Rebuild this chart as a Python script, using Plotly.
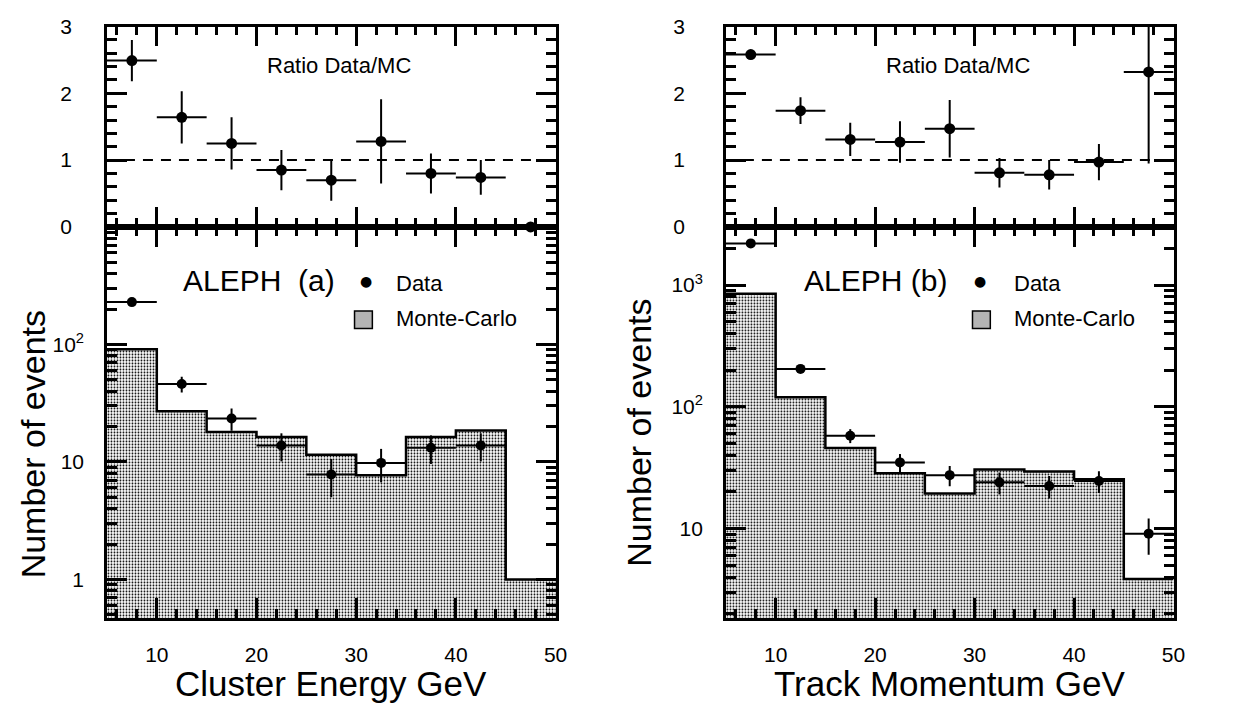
import plotly.graph_objects as go

# ---------------- data ----------------
bin_edges = [5, 10, 15, 20, 25, 30, 35, 40, 45, 50]
bin_centers = [7.5, 12.5, 17.5, 22.5, 27.5, 32.5, 37.5, 42.5, 47.5]
half_width = [2.5] * 9

# (a) Cluster energy
mc_a = [91, 27, 18, 16.3, 11.5, 7.7, 16.3, 18.5, 1.0]
data_a = [229, 46, 23.4, 13.8, 7.8, 9.8, 13.2, 13.8, None]
data_a_err = [15, 7, 5, 3.7, 2.8, 3.1, 3.6, 3.7, 0]
ratio_a = [2.49, 1.64, 1.25, 0.85, 0.70, 1.28, 0.80, 0.74, 0.0]
ratio_a_err = [0.31, 0.39, 0.39, 0.30, 0.31, 0.63, 0.30, 0.26, 0.0]

# (b) Track momentum
mc_b = [850, 120, 46, 28.5, 19.4, 30.6, 29.5, 25.5, 3.86]
data_b = [2200, 205, 58, 35, 27.5, 24, 22.4, 24.6, 9.1]
data_b_err = [47, 14, 7.6, 6, 5.2, 4.9, 4.7, 5, 3]
ratio_b = [2.58, 1.74, 1.31, 1.27, 1.47, 0.81, 0.78, 0.97, 2.32]
ratio_b_err = [0.07, 0.20, 0.25, 0.31, 0.43, 0.22, 0.22, 0.27, 1.37]

W, H = 1239, 717
FONT = "Liberation Sans, Arial, sans-serif"

def px(x):
    return x / W

def py(y):
    return 1 - y / H

fig = go.Figure()

panels = [
    dict(mc=mc_a, data=data_a, derr=data_a_err, ratio=ratio_a, rerr=ratio_a_err,
         x0=108, x1=561, yr=[-0.328, 3.0], tv=[1, 10, 100],
         tt=["1", "10", "10<sup>2</sup>"], label="ALEPH  (a)", xtitle="Cluster Energy GeV",
         clip=False, aleph_x=183, dot_x=370, txt_x=398, box_x=358, ylab_x=33, ylab_y=447),
    dict(mc=mc_b, data=data_b, derr=data_b_err, ratio=ratio_b, rerr=ratio_b_err,
         x0=733, x1=1185, yr=[0.267, 3.478], tv=[10, 100, 1000],
         tt=["10", "10<sup>2</sup>", "10<sup>3</sup>"], label="ALEPH (b)", xtitle="Track Momentum GeV",
         clip=True, aleph_x=810, dot_x=990, txt_x=1022, box_x=982, ylab_x=645, ylab_y=435),
]

y_top, y_mid, y_bot = 15, 222, 626
tick_style = dict(ticks="inside", tickcolor="black", tickwidth=2.5)
axis_common = dict(showline=True, linecolor="black", linewidth=2.5, mirror="allticks",
                   showgrid=False, zeroline=False,
                   tickfont=dict(family=FONT, size=21, color="black"), **tick_style)

annotations = []
shapes = []
for i, p in enumerate(panels):
    n = 2 * i
    xr_name, yr_name = f"x{n+1}", f"y{n+1}"
    xl_name, yl_name = f"x{n+2}", f"y{n+2}"
    dom_x = [px(p["x0"]), px(p["x1"])]

    # ratio axes
    fig.layout[f"xaxis{n+1}"] = dict(domain=dom_x, anchor=yr_name, range=[5, 50],
                                     dtick=10, tick0=0, ticklen=20, showticklabels=False,
                                     minor=dict(dtick=2, tick0=0, ticklen=9, showgrid=False,
                                                **tick_style),
                                     **axis_common)
    fig.layout[f"yaxis{n+1}"] = dict(domain=[py(y_mid), py(y_top)], anchor=xr_name,
                                     range=[0, 3], dtick=1, tick0=0, ticklen=20,
                                     ticklabelstandoff=28 if i == 0 else 34,
                                     minor=dict(dtick=0.2, tick0=0, ticklen=10, showgrid=False,
                                                **tick_style),
                                     **axis_common)
    # lower axes
    fig.layout[f"xaxis{n+2}"] = dict(domain=dom_x, anchor=yl_name, range=[5, 50],
                                     tickvals=[10, 20, 30, 40, 50], ticklen=20,
                                     ticklabelstandoff=16,
                                     minor=dict(dtick=2, tick0=0, ticklen=9, showgrid=False,
                                                **tick_style),
                                     **axis_common)
    fig.layout[f"yaxis{n+2}"] = dict(domain=[py(y_bot), py(y_mid)], anchor=xl_name,
                                     type="log", range=p["yr"], tickvals=p["tv"],
                                     ticktext=p["tt"], ticklen=20, ticklabelstandoff=16,
                                     minor=dict(dtick="D1", ticklen=10, showgrid=False,
                                                **tick_style),
                                     **axis_common)

    # MC histogram (stippled fill)
    fig.add_trace(go.Bar(x=bin_centers, y=p["mc"], width=[5] * 9,
                         marker=dict(color="white", line=dict(width=0),
                                     pattern=dict(shape=".", fgcolor="black", bgcolor="white",
                                                  size=3, solidity=0.3, fillmode="replace")),
                         xaxis=xl_name, yaxis=yl_name, showlegend=False))
    fig.add_trace(go.Scatter(x=bin_edges, y=p["mc"] + [p["mc"][-1]], mode="lines",
                             line=dict(shape="hv", color="black", width=2.5),
                             xaxis=xl_name, yaxis=yl_name, showlegend=False))
    # data points
    fig.add_trace(go.Scatter(x=bin_centers, y=p["data"], mode="markers",
                             marker=dict(color="black", size=10),
                             error_x=dict(type="data", array=half_width, color="black",
                                          thickness=2, width=0),
                             error_y=dict(type="data", array=p["derr"], color="black",
                                          thickness=2, width=0),
                             xaxis=xl_name, yaxis=yl_name, showlegend=False))
    # ratio
    fig.add_trace(go.Scatter(x=[5, 50], y=[1, 1], mode="lines",
                             line=dict(color="black", width=2, dash="10px,8px"),
                             xaxis=xr_name, yaxis=yr_name, showlegend=False))
    fig.add_trace(go.Scatter(x=bin_centers, y=p["ratio"], mode="markers",
                             marker=dict(color="black", size=11),
                             error_x=dict(type="data", array=half_width, color="black",
                                          thickness=2, width=0),
                             error_y=dict(type="data", array=p["rerr"], color="black",
                                          thickness=2, width=0),
                             cliponaxis=p["clip"],
                             xaxis=xr_name, yaxis=yr_name, showlegend=False))

    # texts
    annotations.append(dict(text="Ratio Data/MC", x=px((p["x0"] + p["x1"]) / 2 + 8), y=py(55),
                            xref="paper", yref="paper", showarrow=False,
                            xanchor="center", yanchor="middle",
                            font=dict(family=FONT, size=22, color="black")))
    annotations.append(dict(text=p["label"], x=px(p["aleph_x"]), y=py(277), xref="paper",
                            yref="paper", showarrow=False, xanchor="left", yanchor="middle",
                            font=dict(family=FONT, size=30, color="black")))
    annotations.append(dict(text="●", x=px(p["dot_x"]), y=py(278), xref="paper",
                            yref="paper", showarrow=False, xanchor="center", yanchor="middle",
                            font=dict(family="DejaVu Sans", size=14, color="black")))
    annotations.append(dict(text="Data", x=px(p["txt_x"]), y=py(280), xref="paper",
                            yref="paper", showarrow=False, xanchor="left", yanchor="middle",
                            font=dict(family=FONT, size=22, color="black")))
    annotations.append(dict(text="Monte-Carlo", x=px(p["txt_x"]), y=py(317), xref="paper",
                            yref="paper", showarrow=False, xanchor="left", yanchor="middle",
                            font=dict(family=FONT, size=22, color="black")))
    annotations.append(dict(text=p["xtitle"], x=px((p["x0"] + p["x1"]) / 2), y=py(694),
                            xref="paper", yref="paper", showarrow=False,
                            xanchor="center", yanchor="middle",
                            font=dict(family=FONT, size=35, color="black")))
    annotations.append(dict(text="Number of events", x=px(p["ylab_x"]), y=py(p["ylab_y"]),
                            xref="paper", yref="paper", showarrow=False, textangle=-90,
                            xanchor="center", yanchor="middle",
                            font=dict(family=FONT, size=34, color="black")))
    shapes.append(dict(type="rect", xref="paper", yref="paper",
                       x0=px(p["box_x"]), x1=px(p["box_x"] + 18), y0=py(327), y1=py(309),
                       line=dict(color="black", width=1.5), fillcolor="#b4b4b4"))

fig.update_layout(width=W, height=H, margin=dict(l=0, r=0, t=0, b=0),
                  paper_bgcolor="white", plot_bgcolor="white", bargap=0,
                  annotations=annotations, shapes=shapes, showlegend=False)

fig.write_html("out.html")
